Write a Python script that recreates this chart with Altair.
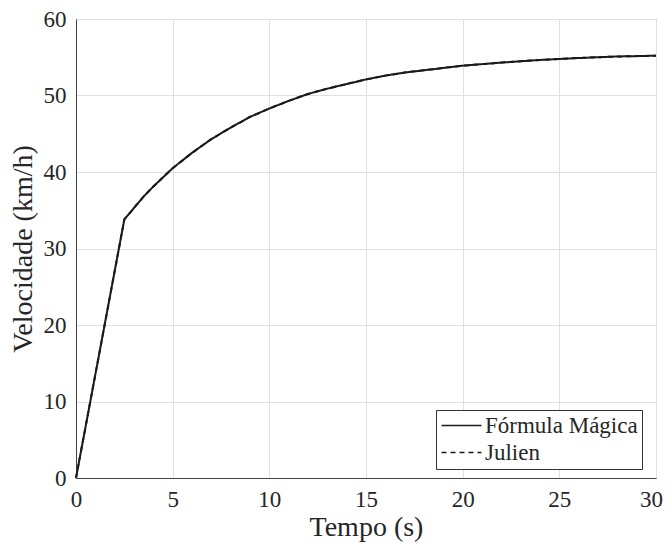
import altair as alt
import pandas as pd

# Time (s) and velocity (km/h)
tempo = [0, 2.5, 3, 3.5, 4, 4.5, 5, 6, 7, 8, 9, 10, 11, 12, 13, 14, 15,
         16, 17, 18, 19, 20, 22, 24, 26, 28, 30]
formula_magica = [0, 33.8, 35.3, 36.8, 38.1, 39.3, 40.5, 42.5, 44.3, 45.8, 47.2,
                  48.3, 49.3, 50.2, 50.9, 51.5, 52.1, 52.6, 53.0, 53.3, 53.6,
                  53.9, 54.3, 54.65, 54.9, 55.1, 55.2]
julien = [0, 33.8, 35.3, 36.8, 38.1, 39.3, 40.5, 42.5, 44.3, 45.8, 47.2,
          48.3, 49.3, 50.2, 50.9, 51.5, 52.1, 52.6, 53.0, 53.3, 53.6,
          53.9, 54.3, 54.65, 54.9, 55.1, 55.2]
series_names = ["Fórmula Mágica", "Julien"]
x_ticks = [0, 5, 10, 15, 20, 25, 30]
y_ticks = [0, 10, 20, 30, 40, 50, 60]

rows = []
for name, vals in zip(series_names, [formula_magica, julien]):
    for t, v in zip(tempo, vals):
        rows.append({"t": t, "v": v, "serie": name})
df = pd.DataFrame(rows)

FONT = "Liberation Serif"
TXT = "#262626"

chart = alt.Chart(df).mark_line(color="#1a1a1a", strokeWidth=2).encode(
    x=alt.X("t:Q", scale=alt.Scale(domain=[0, 30], nice=False),
            axis=alt.Axis(title="Tempo (s)", values=x_ticks, format="d",
                          labelFontSize=23, titleFontSize=28, labelPadding=10,
                          titlePadding=2, ticks=False, domainColor="#444",
                          gridColor="#e0e0e0", labelFlush=False,
                          labelOffset=alt.ExprRef("datum.value == 30 ? -5 : 0"))),
    y=alt.Y("v:Q", scale=alt.Scale(domain=[0, 60], nice=False),
            axis=alt.Axis(title="Velocidade (km/h)", values=y_ticks, format="d",
                          labelFontSize=23, titleFontSize=28, labelPadding=10,
                          titlePadding=6, ticks=False, domainColor="#444",
                          gridColor="#e0e0e0")),
    strokeDash=alt.StrokeDash(
        "serie:N",
        scale=alt.Scale(domain=series_names, range=[[1, 0], [5, 4]]),
        sort=series_names,
        legend=alt.Legend(title=None, orient="none", legendX=360, legendY=391,
                          symbolType="M-1,0H3", symbolSize=400,
                          symbolStrokeColor="#1a1a1a", symbolStrokeWidth=1.5,
                          labelFontSize=23, labelFont=FONT, labelColor=TXT,
                          labelOffset=22, labelLimit=400, padding=4, rowPadding=3,
                          strokeColor="#333", fillColor="white", cornerRadius=0),
    ),
    order=alt.Order("t:Q"),
).properties(
    width=580,
    height=459,
    autosize=alt.AutoSizeParams(type="none"),
    padding={"left": 68, "top": 11, "right": 8, "bottom": 65},
).configure_axis(
    labelFont=FONT, titleFont=FONT, labelColor=TXT, titleColor=TXT,
    titleFontWeight="normal", gridWidth=1,
).configure_view(
    stroke="#666", strokeWidth=1,
)

chart.save("out.html", embed_options={"renderer": "svg", "actions": False})
